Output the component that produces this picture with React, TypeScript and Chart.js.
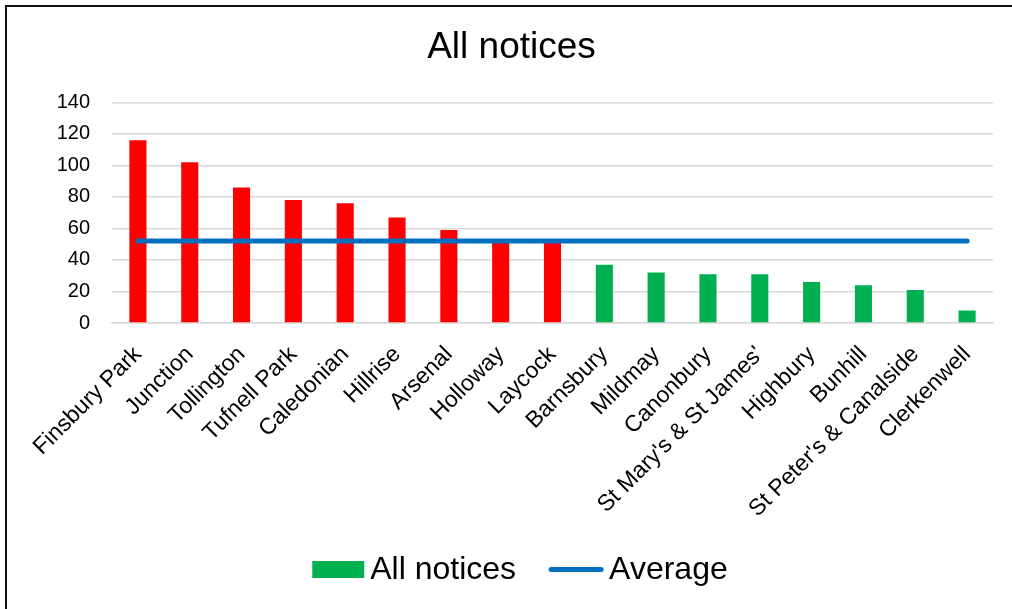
import React, { useEffect, useRef } from "react";
import { Chart, registerables } from "chart.js";

Chart.register(...registerables);

const CATEGORIES = [
  "Finsbury Park",
  "Junction",
  "Tollington",
  "Tufnell Park",
  "Caledonian",
  "Hillrise",
  "Arsenal",
  "Holloway",
  "Laycock",
  "Barnsbury",
  "Mildmay",
  "Canonbury",
  "St Mary's & St James'",
  "Highbury",
  "Bunhill",
  "St Peter's & Canalside",
  "Clerkenwell",
];

const ALL_NOTICES = [116, 102, 86, 78, 76, 67, 59, 53, 52, 37, 32, 31, 31, 26, 24, 21, 8];
const AVERAGE = [52, 52, 52, 52, 52, 52, 52, 52, 52, 52, 52, 52, 52, 52, 52, 52, 52];
const Y_TICKS = [0, 20, 40, 60, 80, 100, 120, 140];
const LEGEND_LABELS = ["All notices", "Average"];
const RED_COUNT = 9;

const RED = "#FF0000";
const GREEN = "#00B050";
const BLUE = "#0070C0";
const FONT = "'Liberation Sans', Arial, sans-serif";

const frameAndLegendPlugin = {
  id: "frameAndLegend",
  beforeDraw(chart: any) {
    const ctx = chart.ctx as CanvasRenderingContext2D;
    ctx.save();
    ctx.fillStyle = "#fff";
    ctx.fillRect(0, 0, chart.width, chart.height);
    ctx.strokeStyle = "#111";
    ctx.lineWidth = 2;
    ctx.beginPath();
    ctx.moveTo(6, chart.height + 10);
    ctx.lineTo(6, 6);
    ctx.lineTo(chart.width + 10, 6);
    ctx.stroke();
    ctx.restore();
  },
  afterDraw(chart: any) {
    const ctx = chart.ctx as CanvasRenderingContext2D;
    ctx.save();
    ctx.font = `32px ${FONT}`;
    ctx.textBaseline = "middle";
    ctx.textAlign = "left";
    const w1 = ctx.measureText(LEGEND_LABELS[0]).width;
    const w2 = ctx.measureText(LEGEND_LABELS[1]).width;
    const boxW = 52;
    const lineW = 50;
    const total = boxW + 6 + w1 + 35 + lineW + 8 + w2;
    const cx = 520;
    const cy = 569.5;
    let x = cx - total / 2;
    ctx.fillStyle = GREEN;
    ctx.fillRect(x, cy - 8.5, boxW, 17);
    x += boxW + 6;
    ctx.fillStyle = "#000";
    ctx.fillText(LEGEND_LABELS[0], x, cy + 1);
    x += w1 + 35;
    ctx.strokeStyle = BLUE;
    ctx.lineWidth = 5;
    ctx.lineCap = "round";
    ctx.beginPath();
    ctx.moveTo(x, cy);
    ctx.lineTo(x + lineW, cy);
    ctx.stroke();
    x += lineW + 8;
    ctx.fillText(LEGEND_LABELS[1], x, cy + 1);
    ctx.restore();
  },
};

export default function App() {
  const ref = useRef<HTMLCanvasElement | null>(null);

  useEffect(() => {
    if (!ref.current) return;
    const chart = new Chart(ref.current, {
      data: {
        labels: CATEGORIES,
        datasets: [
          {
            type: "line",
            label: "Average",
            data: AVERAGE,
            borderColor: BLUE,
            backgroundColor: BLUE,
            borderWidth: 5,
            borderCapStyle: "round",
            pointRadius: 0,
            order: 0,
          } as any,
          {
            type: "bar",
            label: "All notices",
            data: ALL_NOTICES,
            backgroundColor: (ctx: any) => (ctx.dataIndex < RED_COUNT ? RED : GREEN),
            barPercentage: 0.33,
            categoryPercentage: 1,
            order: 1,
          } as any,
        ],
      },
      options: {
        responsive: false,
        animation: false,
        layout: { padding: { left: 30, right: 19, top: 0, bottom: 64 } },
        plugins: {
          tooltip: { enabled: false },
          legend: { display: false },
          title: {
            display: true,
            text: "All notices",
            color: "#000",
            font: { family: FONT, size: 37, weight: "normal" },
            padding: { top: 26, bottom: 32 },
          },
        },
        scales: {
          x: {
            grid: { display: false },
            border: { display: true, color: "#d9d9d9", width: 1.5 },
            ticks: {
              autoSkip: false,
              minRotation: 45,
              maxRotation: 45,
              color: "#000",
              font: { family: FONT, size: 23 },
              padding: 10,
            },
            afterFit: (scale: any) => {
              scale.height = 222;
            },
          },
          y: {
            min: 0,
            max: 140,
            afterBuildTicks: (scale: any) => {
              scale.ticks = Y_TICKS.map((v) => ({ value: v }));
            },
            grid: { color: "#d9d9d9", lineWidth: 1.5, drawTicks: false },
            border: { display: false },
            ticks: {
              color: "#000",
              font: { family: FONT, size: 20 },
              padding: 22,
            },
            afterFit: (scale: any) => {
              scale.width = 82;
            },
          },
        },
      },
      plugins: [frameAndLegendPlugin],
    });
    return () => chart.destroy();
  }, []);

  return (
    <div
      style={{
        position: "absolute",
        left: 0,
        top: 0,
        width: 1012,
        height: 609,
        overflow: "hidden",
        background: "#fff",
      }}
    >
      <canvas ref={ref} width={1012} height={609} style={{ display: "block" }} />
    </div>
  );
}
